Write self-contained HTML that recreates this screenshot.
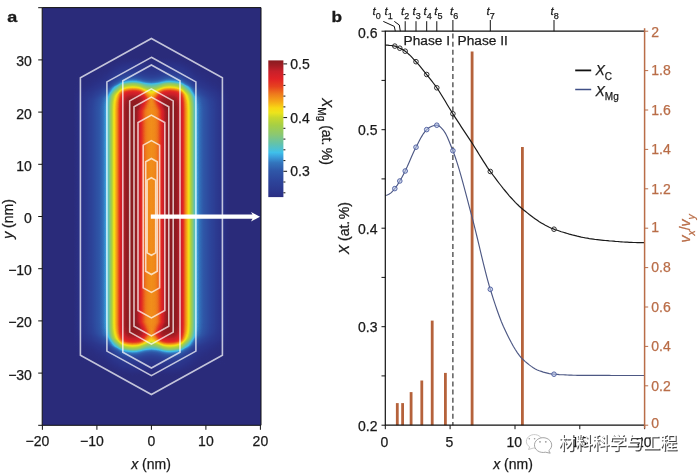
<!DOCTYPE html>
<html lang="zh"><head><meta charset="utf-8"><title>figure</title>
<style>html,body{margin:0;padding:0;background:#fff}svg{display:block;filter:blur(0.35px)}</style></head>
<body>
<svg width="700" height="473" viewBox="0 0 700 473" font-family='"Liberation Sans", "Noto Sans CJK SC", sans-serif' font-size="14">
<defs>
<linearGradient id="prof" gradientUnits="userSpaceOnUse" x1="73.4" y1="0" x2="229.4" y2="0"><stop offset="0.0000" stop-color="#000000"/><stop offset="0.0096" stop-color="#010101"/><stop offset="0.0192" stop-color="#020202"/><stop offset="0.0288" stop-color="#040404"/><stop offset="0.0385" stop-color="#060606"/><stop offset="0.0481" stop-color="#080808"/><stop offset="0.0577" stop-color="#0a0a0a"/><stop offset="0.0673" stop-color="#0d0d0d"/><stop offset="0.0769" stop-color="#101010"/><stop offset="0.0865" stop-color="#131313"/><stop offset="0.0962" stop-color="#171717"/><stop offset="0.1058" stop-color="#1b1b1b"/><stop offset="0.1154" stop-color="#1e1e1e"/><stop offset="0.1250" stop-color="#222222"/><stop offset="0.1346" stop-color="#262626"/><stop offset="0.1442" stop-color="#2a2a2a"/><stop offset="0.1538" stop-color="#2e2e2e"/><stop offset="0.1635" stop-color="#323232"/><stop offset="0.1731" stop-color="#363636"/><stop offset="0.1827" stop-color="#3b3b3b"/><stop offset="0.1923" stop-color="#414141"/><stop offset="0.2019" stop-color="#484848"/><stop offset="0.2115" stop-color="#515151"/><stop offset="0.2212" stop-color="#5d5d5d"/><stop offset="0.2308" stop-color="#6d6d6d"/><stop offset="0.2404" stop-color="#7e7e7e"/><stop offset="0.2500" stop-color="#909090"/><stop offset="0.2596" stop-color="#a1a1a1"/><stop offset="0.2692" stop-color="#aeaeae"/><stop offset="0.2788" stop-color="#bababa"/><stop offset="0.2885" stop-color="#c9c9c9"/><stop offset="0.2981" stop-color="#dbdbdb"/><stop offset="0.3077" stop-color="#e6e6e6"/><stop offset="0.3173" stop-color="#eeeeee"/><stop offset="0.3269" stop-color="#f4f4f4"/><stop offset="0.3365" stop-color="#fafafa"/><stop offset="0.3462" stop-color="#fdfdfd"/><stop offset="0.3558" stop-color="#ffffff"/><stop offset="0.3654" stop-color="#ffffff"/><stop offset="0.3750" stop-color="#fefefe"/><stop offset="0.3846" stop-color="#fefefe"/><stop offset="0.3942" stop-color="#fcfcfc"/><stop offset="0.4038" stop-color="#f9f9f9"/><stop offset="0.4135" stop-color="#f2f2f2"/><stop offset="0.4231" stop-color="#e9e9e9"/><stop offset="0.4327" stop-color="#dedede"/><stop offset="0.4423" stop-color="#d2d2d2"/><stop offset="0.4519" stop-color="#c9c9c9"/><stop offset="0.4615" stop-color="#c3c3c3"/><stop offset="0.4712" stop-color="#bfbfbf"/><stop offset="0.4808" stop-color="#bdbdbd"/><stop offset="0.4904" stop-color="#bcbcbc"/><stop offset="0.5000" stop-color="#bbbbbb"/><stop offset="0.5096" stop-color="#bcbcbc"/><stop offset="0.5192" stop-color="#bdbdbd"/><stop offset="0.5288" stop-color="#bfbfbf"/><stop offset="0.5385" stop-color="#c3c3c3"/><stop offset="0.5481" stop-color="#c9c9c9"/><stop offset="0.5577" stop-color="#d2d2d2"/><stop offset="0.5673" stop-color="#dedede"/><stop offset="0.5769" stop-color="#e9e9e9"/><stop offset="0.5865" stop-color="#f2f2f2"/><stop offset="0.5962" stop-color="#f9f9f9"/><stop offset="0.6058" stop-color="#fcfcfc"/><stop offset="0.6154" stop-color="#fefefe"/><stop offset="0.6250" stop-color="#fefefe"/><stop offset="0.6346" stop-color="#ffffff"/><stop offset="0.6442" stop-color="#ffffff"/><stop offset="0.6538" stop-color="#fdfdfd"/><stop offset="0.6635" stop-color="#fafafa"/><stop offset="0.6731" stop-color="#f4f4f4"/><stop offset="0.6827" stop-color="#eeeeee"/><stop offset="0.6923" stop-color="#e6e6e6"/><stop offset="0.7019" stop-color="#dbdbdb"/><stop offset="0.7115" stop-color="#c9c9c9"/><stop offset="0.7212" stop-color="#bababa"/><stop offset="0.7308" stop-color="#aeaeae"/><stop offset="0.7404" stop-color="#a1a1a1"/><stop offset="0.7500" stop-color="#909090"/><stop offset="0.7596" stop-color="#7e7e7e"/><stop offset="0.7692" stop-color="#6d6d6d"/><stop offset="0.7788" stop-color="#5d5d5d"/><stop offset="0.7885" stop-color="#515151"/><stop offset="0.7981" stop-color="#484848"/><stop offset="0.8077" stop-color="#414141"/><stop offset="0.8173" stop-color="#3b3b3b"/><stop offset="0.8269" stop-color="#363636"/><stop offset="0.8365" stop-color="#323232"/><stop offset="0.8462" stop-color="#2e2e2e"/><stop offset="0.8558" stop-color="#2a2a2a"/><stop offset="0.8654" stop-color="#262626"/><stop offset="0.8750" stop-color="#222222"/><stop offset="0.8846" stop-color="#1e1e1e"/><stop offset="0.8942" stop-color="#1b1b1b"/><stop offset="0.9038" stop-color="#171717"/><stop offset="0.9135" stop-color="#131313"/><stop offset="0.9231" stop-color="#101010"/><stop offset="0.9327" stop-color="#0d0d0d"/><stop offset="0.9423" stop-color="#0a0a0a"/><stop offset="0.9519" stop-color="#080808"/><stop offset="0.9615" stop-color="#060606"/><stop offset="0.9712" stop-color="#040404"/><stop offset="0.9808" stop-color="#020202"/><stop offset="0.9904" stop-color="#010101"/><stop offset="1.0000" stop-color="#000000"/></linearGradient>
<linearGradient id="capS"><stop offset="0.0000" stop-color="#000" stop-opacity="0.000"/><stop offset="0.0250" stop-color="#000" stop-opacity="0.000"/><stop offset="0.0500" stop-color="#000" stop-opacity="0.000"/><stop offset="0.0750" stop-color="#000" stop-opacity="0.000"/><stop offset="0.1000" stop-color="#000" stop-opacity="0.000"/><stop offset="0.1250" stop-color="#000" stop-opacity="0.000"/><stop offset="0.1500" stop-color="#000" stop-opacity="0.000"/><stop offset="0.1750" stop-color="#000" stop-opacity="0.002"/><stop offset="0.2000" stop-color="#000" stop-opacity="0.005"/><stop offset="0.2250" stop-color="#000" stop-opacity="0.009"/><stop offset="0.2500" stop-color="#000" stop-opacity="0.013"/><stop offset="0.2750" stop-color="#000" stop-opacity="0.020"/><stop offset="0.3000" stop-color="#000" stop-opacity="0.030"/><stop offset="0.3250" stop-color="#000" stop-opacity="0.044"/><stop offset="0.3500" stop-color="#000" stop-opacity="0.063"/><stop offset="0.3750" stop-color="#000" stop-opacity="0.085"/><stop offset="0.4000" stop-color="#000" stop-opacity="0.112"/><stop offset="0.4250" stop-color="#000" stop-opacity="0.157"/><stop offset="0.4500" stop-color="#000" stop-opacity="0.234"/><stop offset="0.4750" stop-color="#000" stop-opacity="0.315"/><stop offset="0.5000" stop-color="#000" stop-opacity="0.394"/><stop offset="0.5250" stop-color="#000" stop-opacity="0.459"/><stop offset="0.5500" stop-color="#000" stop-opacity="0.530"/><stop offset="0.5750" stop-color="#000" stop-opacity="0.636"/><stop offset="0.6000" stop-color="#000" stop-opacity="0.710"/><stop offset="0.6250" stop-color="#000" stop-opacity="0.768"/><stop offset="0.6500" stop-color="#000" stop-opacity="0.814"/><stop offset="0.6750" stop-color="#000" stop-opacity="0.852"/><stop offset="0.7000" stop-color="#000" stop-opacity="0.884"/><stop offset="0.7250" stop-color="#000" stop-opacity="0.907"/><stop offset="0.7500" stop-color="#000" stop-opacity="0.925"/><stop offset="0.7750" stop-color="#000" stop-opacity="0.940"/><stop offset="0.8000" stop-color="#000" stop-opacity="0.952"/><stop offset="0.8250" stop-color="#000" stop-opacity="0.962"/><stop offset="0.8500" stop-color="#000" stop-opacity="0.970"/><stop offset="0.8750" stop-color="#000" stop-opacity="0.978"/><stop offset="0.9000" stop-color="#000" stop-opacity="0.985"/><stop offset="0.9250" stop-color="#000" stop-opacity="0.991"/><stop offset="0.9500" stop-color="#000" stop-opacity="0.996"/><stop offset="0.9750" stop-color="#000" stop-opacity="0.999"/><stop offset="1.0000" stop-color="#000" stop-opacity="1.000"/></linearGradient>
<linearGradient id="cprb0" href="#capS" gradientUnits="userSpaceOnUse" x1="151.40" y1="315.70" x2="147.66" y2="375.47"/>
<linearGradient id="cprb1" href="#capS" gradientUnits="userSpaceOnUse" x1="159.40" y1="316.20" x2="157.76" y2="376.16"/>
<linearGradient id="cprb2" href="#capS" gradientUnits="userSpaceOnUse" x1="170.40" y1="316.50" x2="175.69" y2="376.03"/>
<linearGradient id="cprb3" href="#capS" gradientUnits="userSpaceOnUse" x1="179.40" y1="315.70" x2="194.74" y2="371.48"/>
<linearGradient id="cprb4" href="#capS" gradientUnits="userSpaceOnUse" x1="187.40" y1="313.50" x2="205.40" y2="367.50"/>
<linearGradient id="cprb5" href="#capS" gradientUnits="userSpaceOnUse" x1="196.40" y1="310.50" x2="207.94" y2="368.19"/>
<linearGradient id="cprb6" href="#capS" gradientUnits="userSpaceOnUse" x1="211.40" y1="307.50" x2="211.40" y2="367.50"/>
<linearGradient id="cprt0" href="#capS" gradientUnits="userSpaceOnUse" x1="151.40" y1="117.30" x2="147.66" y2="57.53"/>
<linearGradient id="cprt1" href="#capS" gradientUnits="userSpaceOnUse" x1="159.40" y1="116.80" x2="157.76" y2="56.84"/>
<linearGradient id="cprt2" href="#capS" gradientUnits="userSpaceOnUse" x1="170.40" y1="116.50" x2="175.69" y2="56.97"/>
<linearGradient id="cprt3" href="#capS" gradientUnits="userSpaceOnUse" x1="179.40" y1="117.30" x2="194.74" y2="61.52"/>
<linearGradient id="cprt4" href="#capS" gradientUnits="userSpaceOnUse" x1="187.40" y1="119.50" x2="205.40" y2="65.50"/>
<linearGradient id="cprt5" href="#capS" gradientUnits="userSpaceOnUse" x1="196.40" y1="122.50" x2="207.94" y2="64.81"/>
<linearGradient id="cprt6" href="#capS" gradientUnits="userSpaceOnUse" x1="211.40" y1="125.50" x2="211.40" y2="65.50"/>
<linearGradient id="cplb0" href="#capS" gradientUnits="userSpaceOnUse" x1="151.40" y1="315.70" x2="155.14" y2="375.47"/>
<linearGradient id="cplb1" href="#capS" gradientUnits="userSpaceOnUse" x1="143.40" y1="316.20" x2="145.04" y2="376.16"/>
<linearGradient id="cplb2" href="#capS" gradientUnits="userSpaceOnUse" x1="132.40" y1="316.50" x2="127.11" y2="376.03"/>
<linearGradient id="cplb3" href="#capS" gradientUnits="userSpaceOnUse" x1="123.40" y1="315.70" x2="108.06" y2="371.48"/>
<linearGradient id="cplb4" href="#capS" gradientUnits="userSpaceOnUse" x1="115.40" y1="313.50" x2="97.40" y2="367.50"/>
<linearGradient id="cplb5" href="#capS" gradientUnits="userSpaceOnUse" x1="106.40" y1="310.50" x2="94.86" y2="368.19"/>
<linearGradient id="cplb6" href="#capS" gradientUnits="userSpaceOnUse" x1="91.40" y1="307.50" x2="91.40" y2="367.50"/>
<linearGradient id="cplt0" href="#capS" gradientUnits="userSpaceOnUse" x1="151.40" y1="117.30" x2="155.14" y2="57.53"/>
<linearGradient id="cplt1" href="#capS" gradientUnits="userSpaceOnUse" x1="143.40" y1="116.80" x2="145.04" y2="56.84"/>
<linearGradient id="cplt2" href="#capS" gradientUnits="userSpaceOnUse" x1="132.40" y1="116.50" x2="127.11" y2="56.97"/>
<linearGradient id="cplt3" href="#capS" gradientUnits="userSpaceOnUse" x1="123.40" y1="117.30" x2="108.06" y2="61.52"/>
<linearGradient id="cplt4" href="#capS" gradientUnits="userSpaceOnUse" x1="115.40" y1="119.50" x2="97.40" y2="65.50"/>
<linearGradient id="cplt5" href="#capS" gradientUnits="userSpaceOnUse" x1="106.40" y1="122.50" x2="94.86" y2="64.81"/>
<linearGradient id="cplt6" href="#capS" gradientUnits="userSpaceOnUse" x1="91.40" y1="125.50" x2="91.40" y2="65.50"/>
<linearGradient id="lnS"><stop offset="0.0000" stop-color="#bbbbbb"/><stop offset="0.0625" stop-color="#bcbcbc"/><stop offset="0.1250" stop-color="#bdbdbd"/><stop offset="0.1875" stop-color="#bebebe"/><stop offset="0.2500" stop-color="#c1c1c1"/><stop offset="0.3125" stop-color="#c6c6c6"/><stop offset="0.3750" stop-color="#cdcdcd"/><stop offset="0.4375" stop-color="#d6d6d6"/><stop offset="0.5000" stop-color="#e1e1e1"/><stop offset="0.5625" stop-color="#ebebeb"/><stop offset="0.6250" stop-color="#f3f3f3"/><stop offset="0.6875" stop-color="#f9f9f9"/><stop offset="0.7500" stop-color="#fcfcfc"/><stop offset="0.8125" stop-color="#fefefe"/><stop offset="0.8750" stop-color="#fefefe"/><stop offset="0.9375" stop-color="#ffffff"/><stop offset="1.0000" stop-color="#ffffff"/></linearGradient>
<linearGradient id="lnrb" href="#lnS" gradientUnits="userSpaceOnUse" x1="151.4" y1="322.0" x2="169.53" y2="330.16"/>
<linearGradient id="lnrt" href="#lnS" gradientUnits="userSpaceOnUse" x1="151.4" y1="111.0" x2="169.53" y2="102.84"/>
<linearGradient id="lnlb" href="#lnS" gradientUnits="userSpaceOnUse" x1="151.4" y1="322.0" x2="133.27" y2="330.16"/>
<linearGradient id="lnlt" href="#lnS" gradientUnits="userSpaceOnUse" x1="151.4" y1="111.0" x2="133.27" y2="102.84"/>
<linearGradient id="lmrb" href="#lnS" gradientUnits="userSpaceOnUse" x1="151.4" y1="350.0" x2="170.97" y2="343.39"/>
<linearGradient id="lmrt" href="#lnS" gradientUnits="userSpaceOnUse" x1="151.4" y1="83.0" x2="170.97" y2="89.61"/>
<linearGradient id="lmlb" href="#lnS" gradientUnits="userSpaceOnUse" x1="151.4" y1="350.0" x2="131.83" y2="343.39"/>
<linearGradient id="lmlt" href="#lnS" gradientUnits="userSpaceOnUse" x1="151.4" y1="83.0" x2="131.83" y2="89.61"/>
<filter id="jet" filterUnits="userSpaceOnUse" x="42.2" y="7.6" width="218.8" height="417.7" color-interpolation-filters="sRGB"><feComponentTransfer><feFuncR type="table" tableValues="0.165 0.167 0.169 0.170 0.172 0.173 0.174 0.175 0.176 0.178 0.180 0.181 0.183 0.185 0.190 0.194 0.198 0.205 0.215 0.225 0.235 0.245 0.273 0.307 0.341 0.376 0.412 0.448 0.485 0.522 0.555 0.579 0.603 0.627 0.651 0.689 0.727 0.765 0.816 0.878 0.931 0.952 0.973 0.969 0.965 0.961 0.953 0.945 0.937 0.929 0.920 0.911 0.902 0.895 0.889 0.882 0.865 0.838 0.811 0.784 0.730 0.676 0.625 0.583 0.541"/><feFuncG type="table" tableValues="0.169 0.187 0.202 0.213 0.224 0.235 0.246 0.257 0.268 0.282 0.298 0.314 0.329 0.349 0.380 0.412 0.443 0.489 0.551 0.612 0.675 0.737 0.754 0.756 0.758 0.760 0.765 0.770 0.775 0.780 0.786 0.792 0.799 0.805 0.812 0.822 0.832 0.842 0.858 0.878 0.889 0.868 0.847 0.784 0.722 0.659 0.607 0.556 0.504 0.447 0.384 0.322 0.259 0.223 0.187 0.151 0.132 0.130 0.128 0.125 0.121 0.117 0.113 0.109 0.106"/><feFuncB type="table" tableValues="0.482 0.516 0.539 0.550 0.561 0.572 0.583 0.594 0.605 0.616 0.628 0.639 0.650 0.664 0.686 0.708 0.730 0.763 0.807 0.852 0.883 0.911 0.872 0.811 0.750 0.690 0.635 0.583 0.531 0.478 0.429 0.390 0.350 0.310 0.271 0.243 0.215 0.187 0.159 0.131 0.106 0.092 0.078 0.084 0.089 0.094 0.099 0.103 0.108 0.111 0.115 0.118 0.122 0.129 0.137 0.145 0.151 0.156 0.160 0.165 0.156 0.148 0.139 0.132 0.125"/></feComponentTransfer></filter>
<linearGradient id="cb" gradientUnits="userSpaceOnUse" x1="0" y1="60.68" x2="0" y2="198.15"><stop offset="0.0000" stop-color="#8a1b20"/><stop offset="0.0352" stop-color="#a21d24"/><stop offset="0.0781" stop-color="#c8202a"/><stop offset="0.1328" stop-color="#e02226"/><stop offset="0.1875" stop-color="#e6421f"/><stop offset="0.2422" stop-color="#ee7a1c"/><stop offset="0.2969" stop-color="#f5a818"/><stop offset="0.3438" stop-color="#f8d814"/><stop offset="0.3789" stop-color="#ece41c"/><stop offset="0.4141" stop-color="#c8d82c"/><stop offset="0.4688" stop-color="#a6cf45"/><stop offset="0.5352" stop-color="#8cc870"/><stop offset="0.6055" stop-color="#62c2ac"/><stop offset="0.6680" stop-color="#3fc0ea"/><stop offset="0.6992" stop-color="#3aa0dc"/><stop offset="0.7422" stop-color="#3375bd"/><stop offset="0.8008" stop-color="#2f57a8"/><stop offset="0.8711" stop-color="#2d459b"/><stop offset="0.9766" stop-color="#2b3288"/><stop offset="1.0000" stop-color="#2a2b7b"/></linearGradient>
</defs>
<rect width="700" height="473" fill="#fff"/>
<g filter="url(#jet)">
<rect x="42.2" y="7.6" width="218.8" height="417.7" fill="#000"/>
<rect x="73.4" y="56.5" width="156.0" height="320.0" fill="url(#prof)"/>
<rect x="151.0" y="322.0" width="22.2" height="12.0" fill="url(#lnrb)"/>
<rect x="151.0" y="99.0" width="22.2" height="12.0" fill="url(#lnrt)"/>
<rect x="129.6" y="322.0" width="21.4" height="12.0" fill="url(#lnlb)"/>
<rect x="129.6" y="99.0" width="21.4" height="12.0" fill="url(#lnlt)"/>
<rect x="151.0" y="334.0" width="22.2" height="16.0" fill="url(#lmrb)"/>
<rect x="151.0" y="83.0" width="22.2" height="16.0" fill="url(#lmrt)"/>
<rect x="129.6" y="334.0" width="21.4" height="16.0" fill="url(#lmlb)"/>
<rect x="129.6" y="83.0" width="21.4" height="16.0" fill="url(#lmlt)"/>
<rect x="151.0" y="304.5" width="8.0" height="73.0" fill="url(#cprb0)"/>
<rect x="159" y="304.5" width="11" height="73.0" fill="url(#cprb1)"/>
<rect x="170" y="304.5" width="9" height="73.0" fill="url(#cprb2)"/>
<rect x="179" y="304.5" width="8" height="73.0" fill="url(#cprb3)"/>
<rect x="187" y="304.5" width="9" height="73.0" fill="url(#cprb4)"/>
<rect x="196" y="304.5" width="15" height="73.0" fill="url(#cprb5)"/>
<rect x="211" y="304.5" width="20" height="73.0" fill="url(#cprb6)"/>
<rect x="151.0" y="55.5" width="8.0" height="73.0" fill="url(#cprt0)"/>
<rect x="159" y="55.5" width="11" height="73.0" fill="url(#cprt1)"/>
<rect x="170" y="55.5" width="9" height="73.0" fill="url(#cprt2)"/>
<rect x="179" y="55.5" width="8" height="73.0" fill="url(#cprt3)"/>
<rect x="187" y="55.5" width="9" height="73.0" fill="url(#cprt4)"/>
<rect x="196" y="55.5" width="15" height="73.0" fill="url(#cprt5)"/>
<rect x="211" y="55.5" width="20" height="73.0" fill="url(#cprt6)"/>
<rect x="143" y="304.5" width="8.0" height="73.0" fill="url(#cplb0)"/>
<rect x="132" y="304.5" width="11" height="73.0" fill="url(#cplb1)"/>
<rect x="123" y="304.5" width="9" height="73.0" fill="url(#cplb2)"/>
<rect x="115" y="304.5" width="8" height="73.0" fill="url(#cplb3)"/>
<rect x="106" y="304.5" width="9" height="73.0" fill="url(#cplb4)"/>
<rect x="91" y="304.5" width="15" height="73.0" fill="url(#cplb5)"/>
<rect x="71" y="304.5" width="20" height="73.0" fill="url(#cplb6)"/>
<rect x="143" y="55.5" width="8.0" height="73.0" fill="url(#cplt0)"/>
<rect x="132" y="55.5" width="11" height="73.0" fill="url(#cplt1)"/>
<rect x="123" y="55.5" width="9" height="73.0" fill="url(#cplt2)"/>
<rect x="115" y="55.5" width="8" height="73.0" fill="url(#cplt3)"/>
<rect x="106" y="55.5" width="9" height="73.0" fill="url(#cplt4)"/>
<rect x="91" y="55.5" width="15" height="73.0" fill="url(#cplt5)"/>
<rect x="71" y="55.5" width="20" height="73.0" fill="url(#cplt6)"/>
</g>
<g fill="none" stroke="#fff" stroke-width="1.6" stroke-opacity="0.72" stroke-linejoin="miter">
<path d="M151.4,177.7 L155.7,180.1 L155.7,252.9 L151.4,255.3 L147.1,252.9 L147.1,180.1Z"/>
<path d="M151.4,158.5 L157.2,161.7 L157.2,271.3 L151.4,274.5 L145.7,271.3 L145.7,161.7Z"/>
<path d="M151.4,140.6 L159.6,145.1 L159.6,287.9 L151.4,292.4 L143.2,287.9 L143.2,145.1Z"/>
<path d="M151.4,115.1 L164.8,122.5 L164.8,310.5 L151.4,317.9 L138.0,310.5 L138.0,122.5Z"/>
<path d="M151.4,97.1 L168.8,106.7 L168.8,326.3 L151.4,335.9 L134.0,326.3 L134.0,106.7Z"/>
<path d="M151.4,88.9 L173.2,100.9 L173.2,332.1 L151.4,344.1 L129.7,332.1 L129.7,100.9Z"/>
<path d="M151.4,65.0 L180.0,80.8 L180.0,352.2 L151.4,368.0 L122.8,352.2 L122.8,80.8Z"/>
<path d="M151.4,57.3 L195.9,81.9 L195.9,351.1 L151.4,375.7 L106.9,351.1 L106.9,81.9Z"/>
<path d="M151.4,38.5 L222.4,77.8 L222.4,355.2 L151.4,394.5 L80.4,355.2 L80.4,77.8Z"/>
</g>
<path d="M150.8,214.6 H252.5 L251,212 L260,216.7 L251,221.4 L252.5,218.8 H150.8 Z" fill="#fff"/>
<g stroke="#111" stroke-width="1" fill="none">
<path d="M42.2,7.6 V425.3 H261.0 V7.6 Z"/>
<path d="M38.2,425.3 H42.2"/>
<path d="M38.2,373.1 H42.2"/>
<path d="M38.2,320.9 H42.2"/>
<path d="M38.2,268.7 H42.2"/>
<path d="M38.2,216.5 H42.2"/>
<path d="M38.2,164.3 H42.2"/>
<path d="M38.2,112.1 H42.2"/>
<path d="M38.2,59.9 H42.2"/>
<path d="M38.2,7.7 H42.2"/>
<path d="M42.4,425.3 V429.8"/>
<path d="M96.9,425.3 V429.8"/>
<path d="M151.4,425.3 V429.8"/>
<path d="M205.9,425.3 V429.8"/>
<path d="M260.4,425.3 V429.8"/>
</g>
<g fill="#1a1a1a" stroke="#1a1a1a" stroke-width="0.25">
<text x="31.9" y="379.6" text-anchor="end">−30</text>
<text x="31.9" y="327.4" text-anchor="end">−20</text>
<text x="31.9" y="275.2" text-anchor="end">−10</text>
<text x="31.9" y="223.0" text-anchor="end">0</text>
<text x="31.9" y="170.8" text-anchor="end">10</text>
<text x="31.9" y="118.6" text-anchor="end">20</text>
<text x="31.9" y="66.4" text-anchor="end">30</text>
<text x="37.4" y="446.0" text-anchor="middle">−20</text>
<text x="91.9" y="446.0" text-anchor="middle">−10</text>
<text x="151.4" y="446.0" text-anchor="middle">0</text>
<text x="205.9" y="446.0" text-anchor="middle">10</text>
<text x="260.4" y="446.0" text-anchor="middle">20</text>
<text x="151" y="468.5" text-anchor="middle"><tspan font-style="italic">x</tspan> (nm)</text>
<text transform="translate(12.5,219) rotate(-90)" text-anchor="middle"><tspan font-style="italic">y</tspan> (nm)</text>
<text transform="translate(7.2,22.4) scale(1.2,1)" font-weight="bold" font-size="15" stroke="#1a1a1a" stroke-width="0.3">a</text>
<text transform="translate(331.6,22.4) scale(1.15,1)" font-weight="bold" font-size="15" stroke="#1a1a1a" stroke-width="0.3">b</text>
</g>
<rect x="268.3" y="60.4" width="15.1" height="136.7" fill="url(#cb)"/>
<g stroke="#111" stroke-width="1">
<path d="M283.4,192.8 h2.0"/>
<path d="M283.4,182.0 h2.0"/>
<path d="M283.4,171.3 h3.7"/>
<path d="M283.4,160.6 h2.0"/>
<path d="M283.4,149.8 h2.0"/>
<path d="M283.4,139.1 h2.0"/>
<path d="M283.4,128.3 h2.0"/>
<path d="M283.4,117.6 h3.7"/>
<path d="M283.4,106.9 h2.0"/>
<path d="M283.4,96.1 h2.0"/>
<path d="M283.4,85.4 h2.0"/>
<path d="M283.4,74.6 h2.0"/>
<path d="M283.4,63.9 h3.7"/>
</g>
<g fill="#1a1a1a" stroke="#1a1a1a" stroke-width="0.25">
<text x="290.3" y="68.9">0.5</text>
<text x="290.3" y="122.6">0.4</text>
<text x="290.3" y="176.3">0.3</text>
<text transform="translate(321.8,98) rotate(90)"><tspan font-style="italic">X</tspan><tspan font-size="10" dy="4">Mg</tspan><tspan dy="-4"> (at.</tspan><tspan dx="-1.5"> %)</tspan></text>
</g>
<g stroke="#b5623b" stroke-width="2.8">
<path d="M397.3,425.2 V403.1"/>
<path d="M402.6,425.2 V403.1"/>
<path d="M411.1,425.2 V392.1"/>
<path d="M421.8,425.2 V380.5"/>
<path d="M432.2,425.2 V320.6"/>
<path d="M445.4,425.2 V372.9"/>
<path d="M472.1,425.2 V51.5"/>
<path d="M522.4,425.2 V146.9"/>
</g>
<path d="M452.9,31.2 V425.2" stroke="#222" stroke-width="1.1" stroke-dasharray="5,3.09" stroke-dashoffset="5.7" fill="none"/>
<path d="M385.3,45.2 L387.3,45.2 L389.3,45.4 L391.3,45.5 L393.3,45.8 L395.3,46.2 L397.3,47.0 L399.3,48.0 L401.3,48.9 L403.3,50.0 L405.3,51.3 L407.3,52.9 L409.3,54.7 L411.3,56.7 L413.3,58.8 L415.3,61.0 L417.3,63.1 L419.3,65.4 L421.3,67.8 L423.3,70.3 L425.3,72.8 L427.3,75.3 L429.3,77.8 L431.3,80.4 L433.3,83.0 L435.3,85.7 L437.3,88.5 L439.3,91.5 L441.3,94.7 L443.3,98.0 L445.3,101.3 L447.3,104.7 L449.3,108.0 L451.3,111.3 L453.3,114.5 L455.3,117.6 L457.3,120.7 L459.3,123.7 L461.3,126.8 L463.3,129.8 L465.3,132.8 L467.3,135.8 L469.3,138.9 L471.3,141.9 L473.3,145.0 L475.3,148.2 L477.3,151.4 L479.3,154.7 L481.3,157.9 L483.3,161.1 L485.3,164.2 L487.3,167.3 L489.3,170.1 L491.3,172.8 L493.3,175.5 L495.3,178.2 L497.3,180.9 L499.3,183.5 L501.3,186.0 L503.3,188.6 L505.3,191.0 L507.3,193.4 L509.3,195.8 L511.3,198.0 L513.3,200.2 L515.3,202.3 L517.3,204.3 L519.3,206.2 L521.3,208.0 L523.3,209.7 L525.3,211.3 L527.3,212.9 L529.3,214.5 L531.3,216.0 L533.3,217.5 L535.3,218.9 L537.3,220.3 L539.3,221.7 L541.3,222.9 L543.3,224.1 L545.3,225.3 L547.3,226.3 L549.3,227.3 L551.3,228.2 L553.3,228.9 L555.3,229.7 L557.3,230.3 L559.3,231.0 L561.3,231.7 L563.3,232.3 L565.3,232.9 L567.3,233.5 L569.3,234.1 L571.3,234.6 L573.3,235.2 L575.3,235.7 L577.3,236.2 L579.3,236.6 L581.3,237.1 L583.3,237.5 L585.3,237.9 L587.3,238.2 L589.3,238.6 L591.3,238.9 L593.3,239.2 L595.3,239.5 L597.3,239.7 L599.3,239.9 L601.3,240.1 L603.3,240.3 L605.3,240.5 L607.3,240.7 L609.3,240.9 L611.3,241.0 L613.3,241.2 L615.3,241.4 L617.3,241.5 L619.3,241.7 L621.3,241.8 L623.3,242.0 L625.3,242.1 L627.3,242.2 L629.3,242.3 L631.3,242.4 L633.3,242.5 L635.3,242.5 L637.3,242.6 L639.3,242.6 L641.3,242.7 L643.3,242.7 L644.6,242.7" fill="none" stroke="#1a1a1a" stroke-width="1.2"/>
<path d="M385.3,195.5 L387.3,195.0 L389.3,194.0 L391.3,192.6 L393.3,190.4 L395.3,187.9 L397.3,185.1 L399.3,181.8 L401.3,178.4 L403.3,174.7 L405.3,170.8 L407.3,166.6 L409.3,162.0 L411.3,157.3 L413.3,152.8 L415.3,148.6 L417.3,144.7 L419.3,140.8 L421.3,137.1 L423.3,133.8 L425.3,131.1 L427.3,129.1 L429.3,127.6 L431.3,126.5 L433.3,125.8 L435.3,125.4 L437.3,125.2 L439.3,126.1 L441.3,127.8 L443.3,130.0 L445.3,133.1 L447.3,137.1 L449.3,141.7 L451.3,146.7 L453.3,151.8 L455.3,157.2 L457.3,163.3 L459.3,169.9 L461.3,176.9 L463.3,184.1 L465.3,191.6 L467.3,199.2 L469.3,206.9 L471.3,214.4 L473.3,221.9 L475.3,229.8 L477.3,238.0 L479.3,246.4 L481.3,254.8 L483.3,263.1 L485.3,271.2 L487.3,278.8 L489.3,286.0 L491.3,292.5 L493.3,298.8 L495.3,304.9 L497.3,310.8 L499.3,316.3 L501.3,321.5 L503.3,326.3 L505.3,330.6 L507.3,334.7 L509.3,338.7 L511.3,342.6 L513.3,346.2 L515.3,349.5 L517.3,352.6 L519.3,355.4 L521.3,357.8 L523.3,359.8 L525.3,361.6 L527.3,363.3 L529.3,364.9 L531.3,366.4 L533.3,367.7 L535.3,368.9 L537.3,369.9 L539.3,370.8 L541.3,371.4 L543.3,372.1 L545.3,372.6 L547.3,373.1 L549.3,373.6 L551.3,373.9 L553.3,374.1 L555.3,374.3 L557.3,374.4 L559.3,374.6 L561.3,374.7 L563.3,374.8 L565.3,374.9 L567.3,375.0 L569.3,375.1 L571.3,375.1 L573.3,375.2 L575.3,375.2 L577.3,375.3 L579.3,375.3 L581.3,375.3 L583.3,375.3 L585.3,375.3 L587.3,375.3 L589.3,375.4 L591.3,375.4 L593.3,375.4 L595.3,375.4 L597.3,375.4 L599.3,375.4 L601.3,375.4 L603.3,375.4 L605.3,375.4 L607.3,375.4 L609.3,375.4 L611.3,375.5 L613.3,375.5 L615.3,375.5 L617.3,375.5 L619.3,375.5 L621.3,375.5 L623.3,375.5 L625.3,375.5 L627.3,375.5 L629.3,375.5 L631.3,375.5 L633.3,375.5 L635.3,375.5 L637.3,375.5 L639.3,375.5 L641.3,375.5 L643.3,375.5 L644.6,375.5" fill="none" stroke="#4d5884" stroke-width="1.15"/>
<g fill="none" stroke="#1a1a1a" stroke-width="0.9">
<circle cx="394.8" cy="46.1" r="2.3"/>
<circle cx="399.8" cy="48.2" r="2.3"/>
<circle cx="405.2" cy="51.2" r="2.3"/>
<circle cx="416.0" cy="61.7" r="2.3"/>
<circle cx="426.7" cy="74.5" r="2.3"/>
<circle cx="436.8" cy="87.8" r="2.3"/>
<circle cx="452.9" cy="113.8" r="2.3"/>
<circle cx="490.3" cy="171.5" r="2.3"/>
<circle cx="554.0" cy="229.2" r="2.3"/>
</g>
<g fill="#b8c4e6" fill-opacity="0.6" stroke="#4a5a9c" stroke-width="0.9">
<circle cx="394.8" cy="188.6" r="2.3"/>
<circle cx="399.8" cy="181.0" r="2.3"/>
<circle cx="405.2" cy="171.0" r="2.3"/>
<circle cx="416.0" cy="147.2" r="2.3"/>
<circle cx="426.7" cy="129.6" r="2.3"/>
<circle cx="436.8" cy="125.2" r="2.3"/>
<circle cx="452.9" cy="150.7" r="2.3"/>
<circle cx="490.3" cy="289.3" r="2.3"/>
<circle cx="554.0" cy="374.2" r="2.3"/>
</g>
<g stroke="#111" stroke-width="1.2" fill="none">
<path d="M644.6,31.2 H385.3 V425.2 H644.6"/>
</g>
<g stroke="#111" stroke-width="1" fill="none">
<path d="M381.5,425.2 H385.3"/>
<path d="M381.5,375.9 H385.3"/>
<path d="M381.5,326.7 H385.3"/>
<path d="M381.5,277.4 H385.3"/>
<path d="M381.5,228.2 H385.3"/>
<path d="M381.5,178.9 H385.3"/>
<path d="M381.5,129.7 H385.3"/>
<path d="M381.5,80.4 H385.3"/>
<path d="M381.5,31.2 H385.3"/>
<path d="M385.3,425.2 v4"/>
<path d="M450.1,425.2 v4"/>
<path d="M515.0,425.2 v4"/>
<path d="M579.8,425.2 v4"/>
<path d="M644.6,425.2 v4"/>
<path d="M405.2,21.2 V31.2"/>
<path d="M416.0,21.2 V31.2"/>
<path d="M426.7,21.2 V31.2"/>
<path d="M436.8,21.2 V31.2"/>
<path d="M452.9,20 V31.2"/>
<path d="M490.3,20 V31.2"/>
<path d="M554.0,20 V31.2"/>
<path d="M383.3,21.4 L394.3,26.4 L395.3,31.2"/>
<path d="M394.3,21.4 L399.3,25 L400.3,31.2"/>
</g>
<g stroke="#b96d48" stroke-width="1.5" fill="none">
<path d="M644.6,28.2 V428.4"/>
<path d="M644.6,425.2 h3.6" stroke-width="1"/>
<path d="M644.6,385.8 h3.6" stroke-width="1"/>
<path d="M644.6,346.4 h3.6" stroke-width="1"/>
<path d="M644.6,307.0 h3.6" stroke-width="1"/>
<path d="M644.6,267.6 h3.6" stroke-width="1"/>
<path d="M644.6,228.2 h3.6" stroke-width="1"/>
<path d="M644.6,188.8 h3.6" stroke-width="1"/>
<path d="M644.6,149.4 h3.6" stroke-width="1"/>
<path d="M644.6,110.0 h3.6" stroke-width="1"/>
<path d="M644.6,70.6 h3.6" stroke-width="1"/>
<path d="M644.6,31.2 h3.6" stroke-width="1"/>
</g>
<g fill="#b96d48" stroke="#b96d48" stroke-width="0.25">
<text x="651.3" y="428.1">0</text>
<text x="651.3" y="390.5">0.2</text>
<text x="651.3" y="351.1">0.4</text>
<text x="651.3" y="311.7">0.6</text>
<text x="651.3" y="272.3">0.8</text>
<text x="651.3" y="231.6">1</text>
<text x="651.3" y="193.5">1.2</text>
<text x="651.3" y="154.1">1.4</text>
<text x="651.3" y="114.7">1.6</text>
<text x="651.3" y="75.3">1.8</text>
<text x="651.3" y="36.8">2</text>
<text transform="translate(690.3,228.4) rotate(-90)" text-anchor="middle" font-style="italic">v<tspan font-size="10.5" dy="4.5">x</tspan><tspan dy="-4.5" font-style="normal">/</tspan>v<tspan font-size="10.5" dy="4.5">y</tspan></text>
</g>
<g fill="#1a1a1a" stroke="#1a1a1a" stroke-width="0.25">
<text x="377.5" y="430.8" text-anchor="end">0.2</text>
<text x="377.5" y="332.3" text-anchor="end">0.3</text>
<text x="377.5" y="233.8" text-anchor="end">0.4</text>
<text x="377.5" y="135.3" text-anchor="end">0.5</text>
<text x="377.5" y="37.8" text-anchor="end">0.6</text>
<text x="384.5" y="447" text-anchor="middle">0</text>
<text x="449.3" y="447" text-anchor="middle">5</text>
<text x="514.2" y="447" text-anchor="middle">10</text>
<text x="579.0" y="447" text-anchor="middle">15</text>
<text x="643.8" y="447" text-anchor="middle">20</text>
<text x="513" y="468.5" text-anchor="middle"><tspan font-style="italic">x</tspan> (nm)</text>
<text transform="translate(348.5,228.2) rotate(-90)" text-anchor="middle"><tspan font-style="italic">X</tspan> (at.<tspan dx="-2.4"> %)</tspan></text>
<text x="403.6" y="45.4" font-size="13.7">Phase I</text>
<text x="457.6" y="45.4" font-size="13.7">Phase II</text>
<text x="372.6" y="15" font-size="11.5"><tspan font-style="italic">t</tspan><tspan font-size="9" dy="4.2">0</tspan></text>
<text x="384.6" y="15" font-size="11.5"><tspan font-style="italic">t</tspan><tspan font-size="9" dy="4.2">1</tspan></text>
<text x="401.0" y="15" font-size="11.5"><tspan font-style="italic">t</tspan><tspan font-size="9" dy="4.2">2</tspan></text>
<text x="412.5" y="15" font-size="11.5"><tspan font-style="italic">t</tspan><tspan font-size="9" dy="4.2">3</tspan></text>
<text x="423.6" y="15" font-size="11.5"><tspan font-style="italic">t</tspan><tspan font-size="9" dy="4.2">4</tspan></text>
<text x="434.3" y="15" font-size="11.5"><tspan font-style="italic">t</tspan><tspan font-size="9" dy="4.2">5</tspan></text>
<text x="450.0" y="15" font-size="11.5"><tspan font-style="italic">t</tspan><tspan font-size="9" dy="4.2">6</tspan></text>
<text x="486.5" y="15" font-size="11.5"><tspan font-style="italic">t</tspan><tspan font-size="9" dy="4.2">7</tspan></text>
<text x="550.5" y="15" font-size="11.5"><tspan font-style="italic">t</tspan><tspan font-size="9" dy="4.2">8</tspan></text>
<text x="595.5" y="75.3" ><tspan font-style="italic">X</tspan><tspan font-size="10" dy="4.6">C</tspan></text>
<text x="595.5" y="95.8" ><tspan font-style="italic">X</tspan><tspan font-size="10" dy="4.6">Mg</tspan></text>
</g>
<path d="M575.2,70.4 H591.2" stroke="#111" stroke-width="1.8"/>
<path d="M575.2,89.5 H591.2" stroke="#3f4f86" stroke-width="1.5"/>
<g>
<g fill="#fff" stroke-width="0.9">
<path d="M528.5,449.5 l1.2,-2.6 a8,6.8 0 1 1 3.5,1.2 z" stroke="#c4c4c4"/>
<path d="M550.2,453.2 l-1.4,-2.6 a8.6,7.4 0 1 0 -3.4,1.6 z" stroke="#9a9a9a"/>
</g>
<g fill="#9a9a9a"><circle cx="529.3" cy="438.8" r="0.8"/><circle cx="534.6" cy="438.8" r="0.8"/><circle cx="540" cy="441.8" r="0.9"/><circle cx="545.8" cy="441.8" r="0.9"/></g>
<text x="559.8" y="450.3" font-size="16.9" fill="#333" stroke="#333" stroke-width="0.35" fill-opacity="0.9" stroke-opacity="0.6">材料科学与工程</text>
<text x="558.8" y="449.3" font-size="16.9" fill="#fff">材料科学与工程</text>
</g>
</svg>
</body></html>
